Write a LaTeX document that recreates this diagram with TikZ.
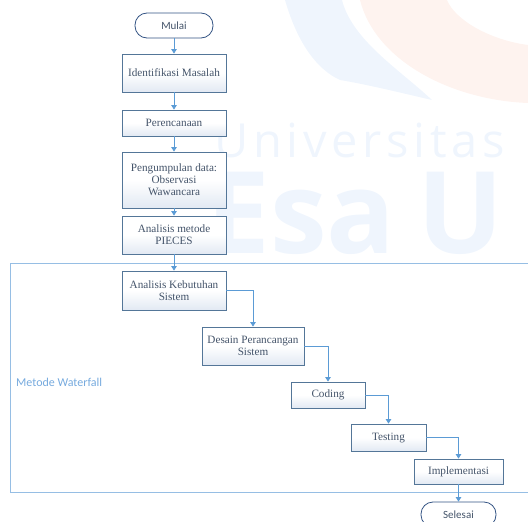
\documentclass[tikz,border=0pt]{standalone}
\usepackage{fontspec}
\setmainfont{Liberation Serif}
\newfontfamily\calibri{Carlito}
\newfontfamily\wmfont{Open Sans}
\newfontfamily\wmspaced[LetterSpace=10]{Open Sans}
\usetikzlibrary{arrows.meta}
\definecolor{arrowblue}{RGB}{91,155,213}
\definecolor{framecol}{RGB}{150,190,228}
\definecolor{boxborder}{RGB}{84,118,152}
\definecolor{termborder}{RGB}{52,84,132}
\definecolor{boxfill}{RGB}{226,233,243}
\definecolor{textcol}{RGB}{68,84,106}
\definecolor{labelblue}{RGB}{118,170,222}
\definecolor{wmblue}{RGB}{239,245,253}
\definecolor{wmorange}{RGB}{254,243,239}
\tikzset{
  proc/.style={draw=boxborder, line width=0.8pt, top color=white, bottom color=boxfill,
    middle color=white, text=textcol, font=\fontsize{11.2}{12}\selectfont, align=center, inner sep=0pt},
  term/.style={draw=termborder, line width=0.8pt, fill=white, rounded corners=12pt,
    text=textcol, font=\calibri\fontsize{11}{12}\selectfont, inner sep=0pt},
  arr/.style={draw=arrowblue, line width=0.9pt, -{Triangle[width=5.5pt,length=4.5pt]}},
  frameline/.style={draw=framecol, line width=0.9pt},
}
\begin{document}
\begin{tikzpicture}[x=1pt,y=-1pt]
\path[use as bounding box, clip] (0,0) rectangle (528,522);
% watermark
\fill[wmblue] (285,0) .. controls (298,45) and (318,70) .. (340,80) .. controls (370,85) and (410,95) .. (432,100) .. controls (400,70) and (352,40) .. (342,0) -- cycle;
\fill[wmorange] (360,0) .. controls (375,60) and (450,100) .. (528,103) -- (528,45) .. controls (490,40) and (455,20) .. (447,0) -- cycle;
\node[anchor=base west, inner sep=0pt, text=wmblue, font=\wmspaced\fontsize{47}{47}\selectfont] (wm1) at (214,157) {Universitas};
\node[anchor=base west, inner sep=0pt, text=wmblue, font=\wmfont\bfseries\fontsize{114}{114}\selectfont] (wm2) at (206,253) {Esa\kern 22pt U};
% frame
\coordinate (fr1) at (528,263);
\coordinate (fr2) at (10,263);
\coordinate (fr3) at (10,492);
\coordinate (fr4) at (528,492);
\draw[frameline] (fr1) -- (fr2) -- (fr3) -- (fr4);
\node[anchor=west, inner sep=0pt, text=labelblue, font=\calibri\fontsize{12}{14}\selectfont] (wf) at (16,382) {Metode Waterfall};
% nodes
\node[term, minimum width=78pt, minimum height=25pt] (mulai) at (174,25.5) {Mulai};
\node[proc, minimum width=104pt, minimum height=38pt] (ident) at (174,73) {Identifikasi Masalah};
\node[proc, minimum width=104pt, minimum height=26pt] (peren) at (174,123) {Perencanaan};
\node[proc, minimum width=104pt, minimum height=56pt] (pengum) at (174,180) {Pengumpulan data:\\Observasi\\Wawancara};
\node[proc, minimum width=104pt, minimum height=38pt] (pieces) at (174,235) {Analisis metode\\PIECES};
\node[proc, minimum width=104pt, minimum height=39pt] (kebut) at (174,290.5) {Analisis Kebutuhan\\Sistem};
\node[proc, minimum width=102pt, minimum height=38pt] (desain) at (253,346) {Desain Perancangan\\Sistem};
\node[proc, minimum width=74pt, minimum height=26pt] (coding) at (328,395) {Coding};
\node[proc, minimum width=75pt, minimum height=27pt] (testing) at (388.5,437.5) {Testing};
\node[proc, minimum width=89pt, minimum height=25pt] (implem) at (458.5,471.5) {Implementasi};
\node[term, minimum width=75pt, minimum height=25pt] (selesai) at (458.5,514.5) {Selesai};
% connectors
\draw[arr] (mulai) -- (ident);
\draw[arr] (ident) -- (peren);
\draw[arr] (peren) -- (pengum);
\draw[arr] (pengum) -- (pieces);
\draw[arr] (pieces) -- (kebut);
\draw[arr] (kebut.east) -| (desain.north);
\draw[arr] (desain.east) -| (coding.north);
\draw[arr] (coding.east) -| (testing.north);
\draw[arr] (testing.east) -| (implem.north);
\draw[arr] (implem) -- (selesai);
\end{tikzpicture}
\end{document}
